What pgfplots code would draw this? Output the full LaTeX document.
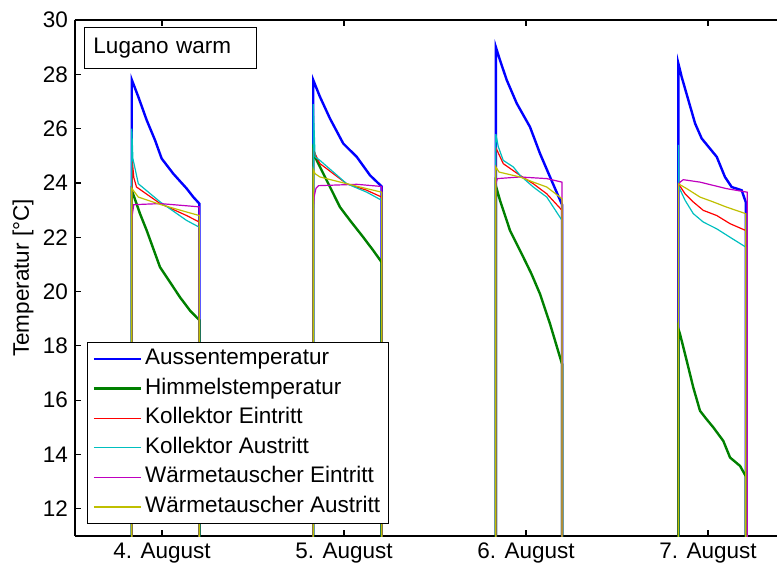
\documentclass[border=0pt]{standalone}
\usepackage{fontspec}
\setmainfont{Liberation Sans}
\usepackage{pgfplots}
\pgfplotsset{compat=1.18}

\definecolor{mBlue}{rgb}{0,0,1}
\definecolor{mGreen}{rgb}{0,0.5,0}
\definecolor{mRed}{rgb}{1,0,0}
\definecolor{mCyan}{rgb}{0,0.75,0.75}
\definecolor{mMagenta}{rgb}{0.75,0,0.75}
\definecolor{mYellow}{rgb}{0.75,0.75,0}

\begin{document}
\begin{tikzpicture}
\begin{axis}[
    scale only axis,
    width=351pt, height=258pt,
    xmin=3.522, xmax=7.379,
    ymin=11, ymax=30,
    axis x line*=box,
    axis y line*=left,
    tick align=inside,
    major tick length=3pt,
    axis line style={black, line width=0.6pt},
    every tick/.style={black, line width=0.6pt},
    font=\fontsize{11.25}{13}\selectfont,
    /pgf/number format/assume math mode=true,
    xtick={4,5,6,7},
    xticklabels={4. August,5. August,6. August,7. August},
    ytick={12,14,...,30},
    ylabel={Temperatur [°C]},
    ylabel style={at={(axis description cs:-0.049,0.5)}, anchor=south},
    legend cell align=left,
    legend image code/.code={\draw[#1] (0pt,0pt) -- (23.5pt,0pt);},
    legend style={
        at={(0.0175,0.0227)}, anchor=south west,
        draw=black, line width=0.5pt, fill=white,
        inner xsep=2.5pt, inner ysep=1pt, row sep=0pt,
        nodes={inner xsep=1.5pt, inner ysep=2pt, text height=8.2pt, text depth=2.6pt},
    },
]

% Aussentemperatur
\addplot[mBlue, line width=1.2pt] coordinates {
    (3.834,0) (3.834,27.8) (3.870,27.17) (3.916,26.31) (3.962,25.57) (3.998,24.9)
    (4.062,24.34) (4.136,23.79) (4.172,23.48) (4.205,23.24) (4.205,0)
    (4.831,0) (4.831,27.79) (4.868,27.17) (4.923,26.37) (4.996,25.45) (5.070,24.96)
    (5.143,24.28) (5.207,23.87) (5.207,0)
    (5.834,0) (5.834,29.01) (5.857,28.52) (5.894,27.79) (5.949,26.93) (6.022,26.06)
    (6.077,25.08) (6.132,24.22) (6.198,23.2) (6.198,0)
    (6.837,0) (6.837,28.4) (6.855,27.91) (6.892,27.05) (6.929,26.19) (6.965,25.64)
    (7.048,24.96) (7.093,24.22) (7.130,23.85) (7.185,23.73) (7.207,23.3) (7.207,0)
};
\addlegendentry{Aussentemperatur}

% Himmelstemperatur
\addplot[mGreen, line width=1.2pt] coordinates {
    (3.834,0) (3.834,23.7) (3.841,23.6) (3.879,22.87) (3.916,22.25) (3.989,20.9)
    (4.026,20.53) (4.099,19.79) (4.154,19.3) (4.205,18.95) (4.205,0)
    (4.831,0) (4.831,25.2) (4.850,24.83) (4.923,23.85) (4.978,23.11) (5.033,22.62)
    (5.106,22.0) (5.161,21.51) (5.207,21.08) (5.207,0)
    (5.834,0) (5.834,23.9) (5.857,23.36) (5.912,22.25) (5.985,21.27) (6.030,20.65)
    (6.077,19.91) (6.132,18.81) (6.198,17.33) (6.198,0)
    (6.837,0) (6.837,18.62) (6.846,18.44) (6.883,17.45) (6.919,16.47) (6.956,15.61)
    (6.992,15.3) (7.029,15.0) (7.084,14.5) (7.121,13.89) (7.176,13.58) (7.207,13.21) (7.207,0)
};
\addlegendentry{Himmelstemperatur}

% Kollektor Eintritt
\addplot[mRed, line width=0.6pt] coordinates {
    (3.834,0) (3.834,21.5) (3.837,24.8) (3.845,24.2) (3.860,23.85) (3.990,23.24)
    (4.135,22.8) (4.205,22.56) (4.205,0)
    (4.831,0) (4.831,25.2) (4.868,24.71) (5.015,23.97) (5.125,23.73) (5.207,23.48) (5.207,0)
    (5.834,0) (5.834,25.3) (5.848,25.1) (5.875,24.71) (5.967,24.28) (6.040,23.97)
    (6.114,23.6) (6.198,22.99) (6.198,0)
    (6.837,0) (6.837,23.97) (6.874,23.6) (6.919,23.3) (6.974,22.99) (7.048,22.8)
    (7.121,22.5) (7.207,22.25) (7.207,0)
};
\addlegendentry{Kollektor Eintritt}

% Kollektor Austritt
\addplot[mCyan, line width=0.6pt] coordinates {
    (3.834,0) (3.834,26.0) (3.840,24.9) (3.870,23.97) (3.990,23.3) (4.135,22.62)
    (4.205,22.37) (4.205,0)
    (4.831,0) (4.831,26.9) (4.841,24.96) (4.868,24.83) (5.015,23.97) (5.125,23.66)
    (5.207,23.36) (5.207,0)
    (5.834,0) (5.834,25.8) (5.848,25.33) (5.875,24.83) (5.930,24.59) (5.967,24.28)
    (6.040,23.85) (6.114,23.48) (6.198,22.62) (6.198,0)
    (6.837,0) (6.837,25.4) (6.840,23.85) (6.874,23.36) (6.919,22.87) (6.974,22.56)
    (7.048,22.31) (7.121,22.0) (7.207,21.64) (7.207,0)
};
\addlegendentry{Kollektor Austritt}

% Waermetauscher Eintritt
\addplot[mMagenta, line width=0.6pt] coordinates {
    (3.834,0) (3.834,22.7) (3.845,23.2) (3.990,23.24) (4.205,23.12) (4.205,0)
    (4.831,0) (4.831,23.0) (4.836,23.5) (4.846,23.8) (4.860,23.9) (5.070,23.95)
    (5.207,23.87) (5.207,0)
    (5.834,0) (5.834,23.97) (5.843,24.16) (5.967,24.22) (6.114,24.16) (6.198,24.03) (6.198,0)
    (6.837,0) (6.837,23.9) (6.846,24.03) (6.864,24.12) (6.956,24.03) (7.102,23.79)
    (7.215,23.66) (7.215,0)
};
\addlegendentry{Wärmetauscher Eintritt}

% Waermetauscher Austritt
\addplot[mYellow, line width=0.6pt] coordinates {
    (3.834,0) (3.834,23.8) (3.870,23.48) (3.990,23.21) (4.135,22.93) (4.205,22.8) (4.205,0)
    (4.831,0) (4.831,24.5) (4.841,24.34) (4.868,24.22) (5.015,23.97) (5.125,23.79)
    (5.207,23.66) (5.207,0)
    (5.834,0) (5.834,24.59) (5.852,24.4) (5.967,24.22) (6.040,24.03) (6.114,23.85)
    (6.198,23.42) (6.198,0)
    (6.837,0) (6.837,23.97) (6.883,23.79) (6.956,23.48) (7.029,23.3) (7.102,23.11)
    (7.207,22.87) (7.207,0)
};
\addlegendentry{Wärmetauscher Austritt}

\node[draw=black, line width=0.5pt, fill=white, anchor=north west,
      text width=77pt, inner xsep=4.5pt, minimum height=20.5pt, align=left]
    at (rel axis cs:0.0128,0.9858) {Lugano warm};
\end{axis}
\pgfresetboundingbox
\path[use as bounding box] (-37.5pt,-14pt) rectangle (351pt,268pt);
\end{tikzpicture}
\end{document}
